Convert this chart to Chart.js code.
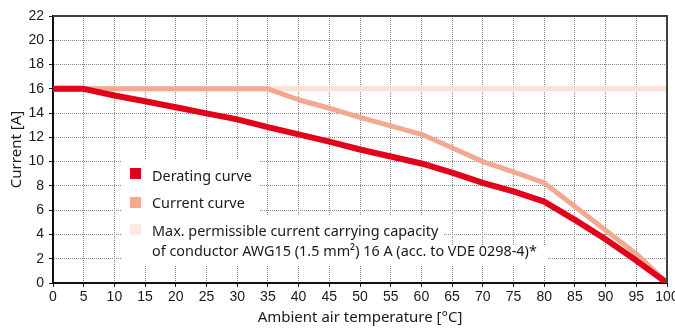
<!DOCTYPE html>
<html>
<head>
<meta charset="utf-8">
<script src="https://cdn.jsdelivr.net/npm/chart.js@4/dist/chart.umd.min.js"></script>
<style>
  html, body { margin: 0; padding: 0; background: #fff; }
  #wrap { width: 675px; height: 329px; }
</style>
</head>
<body>
<div id="wrap"><canvas id="derating"></canvas></div>
<script>
const temps = [0, 5, 10, 15, 20, 25, 30, 35, 40, 45, 50, 55, 60, 65, 70, 75, 80, 85, 90, 95, 100];
const deratingValues = [16, 16, 15.45, 14.98, 14.48, 13.98, 13.48, 12.85, 12.25, 11.65, 11.0, 10.42, 9.85, 9.1, 8.25, 7.55, 6.7, 5.2, 3.6, 1.85, 0];
const currentValues = [16, 16, 16, 16, 16, 16, 16, 16, 15.1, 14.4, 13.65, 12.95, 12.25, 11.15, 10.0, 9.15, 8.25, 6.3, 4.35, 2.4, 0];
const maxValues = [16, 16, 16, 16, 16, 16, 16, 16, 16, 16, 16, 16, 16, 16, 16, 16, 16, 16, 16, 16, 16];
const seriesLabels = [
    'Derating curve',
    'Current curve',
    'Max. permissible current carrying capacity\nof conductor AWG15 (1.5 mm\u00b2) 16 A (acc. to VDE 0298-4)*'
];
const xTitle = 'Ambient air temperature [\u00b0C]';
const yTitle = 'Current [A]';

const textFont = "'Noto Sans', 'Open Sans', sans-serif";
const tickFont = "'Liberation Sans', Arial, sans-serif";

function toPoints(values) {
    return values.map(function(v, i) { return { x: temps[i], y: v }; });
}

// legend is drawn by hand: multi-line label and white background patches
const boxLegend = {
    id: 'boxLegend',
    beforeDatasetsDraw(chart) {
        const ctx = chart.ctx;
        ctx.save();
        ctx.fillStyle = '#fff';
        ctx.fillRect(122, 160, 137, 56);
        ctx.fillRect(122, 215, 321, 32);
        ctx.fillRect(122, 245, 426, 21);

        const rows = [
            { box: 168, base: 181 },
            { box: 197, base: 208 },
            { box: 224, base: 236 }
        ];
        ctx.font = '15px ' + textFont;
        ctx.textBaseline = 'alphabetic';
        chart.data.datasets.forEach(function(ds, i) {
            ctx.fillStyle = ds.legendColor;
            ctx.fillRect(130, rows[i].box, 11, 11);
            ctx.fillStyle = '#1a1a1a';
            const lines = ds.label.split('\n');
            lines.forEach(function(line, j) {
                // the original face is narrower, squeeze a little
                ctx.save();
                ctx.translate(152, rows[i].base + j * 20);
                ctx.scale(0.96, 1);
                ctx.fillText(line, 0, 0);
                ctx.restore();
            });
        });
        ctx.restore();
    },
    afterDraw(chart) {
        const a = chart.chartArea;
        const ctx = chart.ctx;
        ctx.save();
        ctx.strokeStyle = '#404040';
        ctx.lineWidth = 2;
        ctx.beginPath();
        ctx.moveTo(a.left, a.top);
        ctx.lineTo(a.right, a.top);
        ctx.lineTo(a.right, a.bottom);
        ctx.stroke();
        ctx.restore();
    }
};

const ctx = document.getElementById('derating').getContext('2d');
new Chart(ctx, {
    type: 'line',
    data: {
        datasets: [{
            label: seriesLabels[0],
            data: toPoints(deratingValues),
            borderColor: '#e2001a',
            legendColor: '#e2001a',
            borderWidth: 6
        }, {
            label: seriesLabels[1],
            data: toPoints(currentValues),
            borderColor: '#f2a98f',
            legendColor: '#f2a98f',
            borderWidth: 5
        }, {
            label: seriesLabels[2],
            data: toPoints(maxValues),
            borderColor: '#fbe1d6',
            legendColor: '#fde9e1',
            borderWidth: 5
        }]
    },
    options: {
        responsive: true,
        maintainAspectRatio: false,
        animation: false,
        events: [],
        layout: { padding: { top: 16, right: 8, left: 0, bottom: 0 } },
        elements: {
            point: { radius: 0 },
            line: { tension: 0, borderJoinStyle: 'round', borderCapStyle: 'butt' }
        },
        plugins: {
            legend: { display: false },
            tooltip: { enabled: false }
        },
        scales: {
            x: {
                type: 'linear',
                min: 0,
                max: 100,
                ticks: { stepSize: 5, color: '#1a1a1a', font: { family: tickFont, size: 14 }, padding: 2, maxRotation: 0, autoSkip: false },
                grid: { color: '#8a8a8a', lineWidth: 1, tickLength: 4, tickColor: '#1a1a1a' },
                border: { color: '#111', width: 2, dash: [1, 1] },
                title: { display: true, text: xTitle, color: '#1a1a1a', font: { family: textFont, size: 15 }, padding: { top: 2, bottom: 2 } },
                afterFit(scale) {
                    scale.paddingLeft = 0;
                    scale.paddingRight = 0;
                    scale.height = 46;
                }
            },
            y: {
                min: 0,
                max: 22,
                ticks: { stepSize: 2, color: '#1a1a1a', font: { family: tickFont, size: 14 }, padding: 5 },
                grid: { color: '#8a8a8a', lineWidth: 1, tickLength: 4, tickColor: '#1a1a1a' },
                border: { color: '#111', width: 2, dash: [1, 1] },
                title: { display: true, text: yTitle, color: '#1a1a1a', font: { family: textFont, size: 15 }, padding: { top: 8, bottom: 0 } },
                afterFit(scale) {
                    scale.width = 53;
                    scale.paddingTop = 0;
                    scale.paddingBottom = 0;
                }
            }
        }
    },
    plugins: [boxLegend]
});
</script>
</body>
</html>
